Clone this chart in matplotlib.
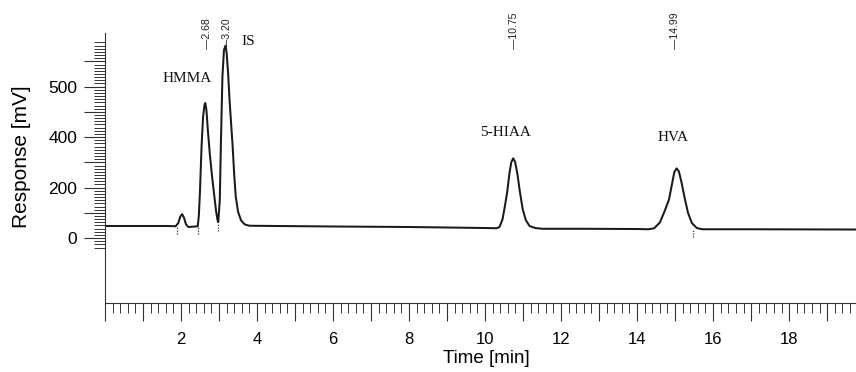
import matplotlib
matplotlib.use("Agg")
import matplotlib.pyplot as plt
from matplotlib.ticker import FixedLocator, MultipleLocator, FuncFormatter

# chromatogram trace (time in min, response in mV)
trace_time = [0.0, 1.0, 1.6, 1.86, 1.93, 1.98, 2.03, 2.08, 2.13, 2.19, 2.30,
              2.44, 2.47, 2.50, 2.54, 2.58, 2.62, 2.64, 2.67, 2.71, 2.76, 2.82, 2.87, 2.92, 2.96, 2.98,
              3.02, 3.05, 3.09, 3.13, 3.17, 3.20, 3.24, 3.28, 3.32, 3.36, 3.40, 3.44, 3.50, 3.58, 3.68, 3.80,
              4.5, 6.0, 8.0, 9.0, 10.0, 10.3,
              10.38, 10.46, 10.52, 10.58, 10.64, 10.69, 10.74, 10.79, 10.85, 10.92, 10.99, 11.07, 11.17, 11.32, 11.5,
              12.5, 14.0, 14.3,
              14.45, 14.6, 14.72, 14.84, 14.92, 14.98, 15.04, 15.10, 15.17, 15.26, 15.34, 15.44, 15.57, 15.72,
              17.0, 19.76]
trace_mv = [48, 48, 48, 47, 60, 85, 95, 80, 55, 44, 45,
            47, 90, 190, 360, 480, 530, 535, 505, 420, 330, 240, 175, 110, 72, 63,
            150, 380, 640, 745, 762, 735, 650, 540, 450, 360, 250, 165, 105, 70, 54, 49,
            48, 46, 44, 42, 40, 39,
            44, 75, 125, 180, 255, 300, 316, 302, 255, 180, 115, 72, 48, 40, 37,
            37, 36, 35,
            39, 62, 105, 153, 215, 262, 276, 264, 220, 153, 100, 60, 40, 35,
            35, 34]

# integration markers under the baseline
marker_time = [1.90, 2.45, 2.97, 15.47]
marker_top = [47, 46, 58, 36]

# retention times printed above the peaks
rt_values = [2.68, 3.20, 10.75, 14.99]

# compound names
peak_names = ["HMMA", "IS", "5-HIAA", "HVA"]
name_time = [2.16, 3.78, 10.55, 14.95]
name_mv = [634, 780, 420, 400]

y_major = [0, 100, 200, 300, 400, 500, 600, 700]
y_labels = {0: "0", 200: "200", 400: "400", 600: "500"}

sans = ["Liberation Sans Narrow", "Liberation Sans", "DejaVu Sans"]
serif = ["Liberation Serif", "DejaVu Serif"]

fig = plt.figure(figsize=(8.56, 3.72), dpi=100)
ax = fig.add_axes([105 / 856, 69 / 372, 751 / 856, 303 / 372])
ax.set_xlim(0, 19.76)
ax.set_ylim(-257, 943)

ax.plot(trace_time, trace_mv, color="#1a1a1a", lw=1.45, solid_joinstyle="round")
ax.vlines(marker_time, [m - 30 for m in marker_top], marker_top,
          colors="#333333", linestyles=(0, (1, 1.2)), lw=0.9)

for rt in rt_values:
    ax.text(rt, 750, "\u2014" + f"{rt:.2f}", rotation=90, ha="center", va="bottom",
            fontsize=7.5, family=sans, color="#222222")

for name, t, v in zip(peak_names, name_time, name_mv):
    ax.text(t, v, name, ha="center", va="center", fontsize=11, family=serif, color="#111111")

for s in ["top", "right"]:
    ax.spines[s].set_visible(False)
ax.spines["left"].set_bounds(-257, 812)
ax.spines["left"].set_color("#333333")
ax.spines["bottom"].set_color("#333333")

ax.xaxis.set_major_locator(MultipleLocator(1))
ax.xaxis.set_minor_locator(MultipleLocator(0.2))
ax.xaxis.set_major_formatter(FuncFormatter(lambda v, p: f"{v:.0f}" if v > 0 and round(v) % 2 == 0 else ""))
ax.tick_params(axis="x", which="major", direction="out", length=13, width=0.8, pad=8,
               labelsize=12, color="#333333")
ax.tick_params(axis="x", which="minor", direction="out", length=7, width=0.7, color="#333333")

ax.yaxis.set_major_locator(FixedLocator(y_major))
ax.yaxis.set_minor_locator(FixedLocator([-37.5 + 12.5 * i for i in range(66)]))
ax.yaxis.set_major_formatter(FuncFormatter(lambda v, p: y_labels.get(int(round(v)), "")))
ax.tick_params(axis="y", which="major", direction="out", length=15, width=0.8, pad=5,
               labelsize=12.5, color="#333333")
ax.tick_params(axis="y", which="minor", direction="out", length=8, width=0.7, color="#333333")

for lab in ax.get_xticklabels() + ax.get_yticklabels():
    lab.set_family(sans)

ax.set_xlabel("Time [min]", fontsize=13.5, family=sans)
ax.xaxis.set_label_coords((486 - 105) / 751, -(350 - 303) / 303)
ax.set_ylabel("Response [mV]", fontsize=15, family=sans)
ax.yaxis.set_label_coords(-(105 - 31) / 751, (303 - 157) / 303)

fig.savefig("out.png", dpi=100)
